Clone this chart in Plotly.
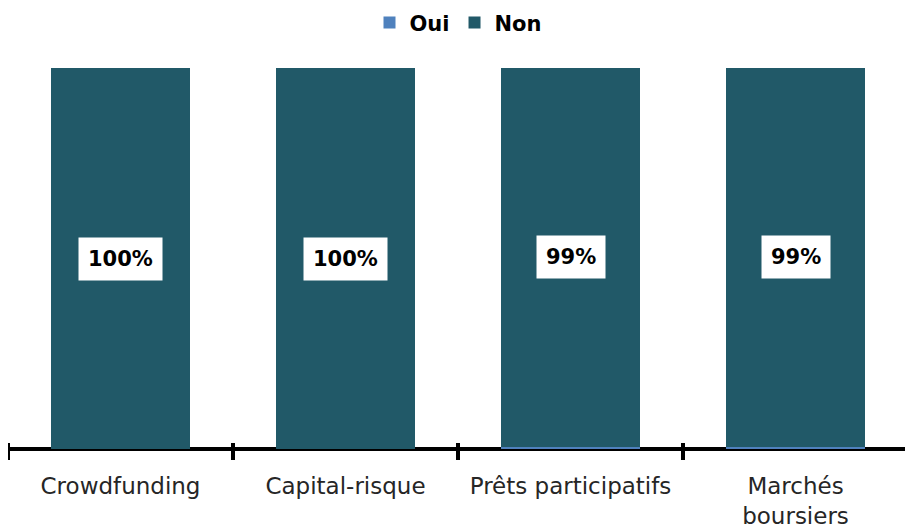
import plotly.graph_objects as go

categories = ["Crowdfunding", "Capital-risque", "Prêts participatifs", "Marchés<br>boursiers"]
oui = [0.0, 0.0, 0.006, 0.006]
non = [1.0, 1.0, 0.994, 0.994]

OUI_COLOR = "#4F81BD"
NON_COLOR = "#215968"
FONT = "'DejaVu Sans', sans-serif"

fig = go.Figure()
fig.add_trace(go.Bar(x=categories, y=oui, name="Oui", marker=dict(color=OUI_COLOR, line=dict(width=0))))
fig.add_trace(go.Bar(x=categories, y=non, name="Non", marker=dict(color=NON_COLOR, line=dict(width=0))))

# white-box labels centred on the "Non" segment
for c, o, n in zip(categories, oui, non):
    fig.add_annotation(x=c, y=o + n / 2, text=f"<b>{n:.0%}</b>", showarrow=False,
                       bgcolor="white", borderpad=9,
                       font=dict(family=FONT, size=21, color="black"))

fig.update_layout(
    width=913, height=532,
    barmode="stack", bargap=0.38,
    plot_bgcolor="white", paper_bgcolor="white",
    margin=dict(l=0, r=13, t=60, b=91, autoexpand=False),
    font=dict(family=FONT, color="#262626"),
    legend=dict(orientation="h", x=0.5, xanchor="center", y=0.972, yref="container",
                yanchor="middle",
                font=dict(size=21, color="black", weight="bold"), traceorder="normal",
                itemwidth=30),
    # category axis lifted a few px so its boundary ticks cross the baseline
    xaxis=dict(type="category", tickson="boundaries", anchor="free", position=0.019,
               showline=False, ticks="outside", ticklen=17, tickwidth=4, tickcolor="black",
               tickfont=dict(size=23, color="#262626"), ticklabelstandoff=28,
               range=[-0.5, len(categories) - 0.5], automargin=False),
    # baseline drawn as the y zero line
    yaxis=dict(range=[0, 1], showticklabels=False, showgrid=False, showline=False,
               ticks="", zeroline=True, zerolinecolor="black", zerolinewidth=4),
    showlegend=True,
)

fig.write_html("out.html")
